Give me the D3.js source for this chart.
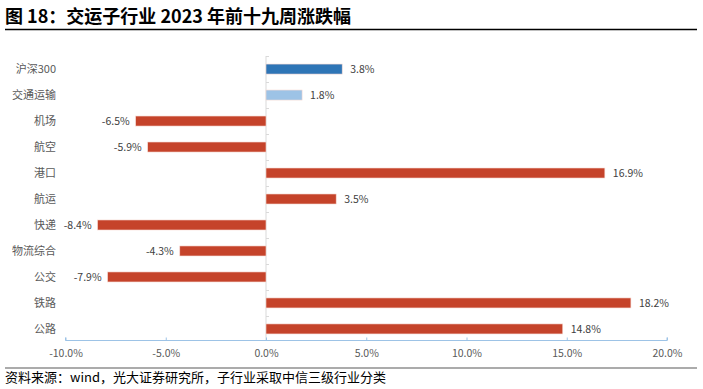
<!DOCTYPE html>
<html><head><meta charset="utf-8">
<script src="https://cdn.jsdelivr.net/npm/d3@7/dist/d3.min.js"></script>
<style>body{margin:0;background:#fff}svg{display:block}</style>
</head><body>
<script>
const categories = ["沪深300","交通运输","机场","航空","港口","航运","快递","物流综合","公交","铁路","公路"];
const values = [3.8, 1.8, -6.5, -5.9, 16.9, 3.5, -8.4, -4.3, -7.9, 18.2, 14.8];
const barColors = ["#2E75B6","#9DC3E6","#C5432A","#C5432A","#C5432A","#C5432A","#C5432A","#C5432A","#C5432A","#C5432A","#C5432A"];
const xTicks = [-10, -5, 0, 5, 10, 15, 20];
const titleText = "图 18：交运子行业 2023 年前十九周涨跌幅";
const sourceText = "资料来源：wind，光大证券研究所，子行业采取中信三级行业分类";

const W = 703, H = 389;
const font = "'Noto Sans CJK SC','Noto Sans',sans-serif";
const svg = d3.select("body").append("svg").attr("width", W).attr("height", H);

svg.append("text").attr("x", 5).attr("y", 23).attr("font-family", font)
  .attr("font-size", 18).attr("font-weight", "bold").attr("fill", "#000").text(titleText);
svg.append("line").attr("x1", 5).attr("x2", 697).attr("y1", 29.5).attr("y2", 29.5)
  .attr("stroke", "#000").attr("stroke-width", 1.5);

const x = d3.scaleLinear().domain([-10, 20]).range([65.5, 667]);
const y = d3.scaleBand().domain(categories).range([56, 342]).paddingInner(0.615).paddingOuter(0.31);

const x0 = x(0);
svg.append("line").attr("x1", x0).attr("x2", x0).attr("y1", 56).attr("y2", 341)
  .attr("stroke", "#d9d9d9").attr("stroke-width", 1);
for (let i = 0; i <= categories.length; i++) {
  const yy = 56 + i * 26;
  if (yy > 340) break;
  svg.append("line").attr("x1", x0).attr("x2", x0 + 3).attr("y1", yy + 0.5).attr("y2", yy + 0.5)
    .attr("stroke", "#d9d9d9");
}

svg.selectAll("rect.bar").data(categories).enter().append("rect")
  .attr("x", (d, i) => Math.min(x(0), x(values[i])))
  .attr("y", d => y(d))
  .attr("width", (d, i) => Math.abs(x(values[i]) - x(0)))
  .attr("height", y.bandwidth())
  .attr("fill", (d, i) => barColors[i])
  .attr("stroke", "#f6d9d2").attr("stroke-width", 0.6);

svg.selectAll("text.val").data(categories).enter().append("text")
  .attr("x", (d, i) => values[i] >= 0 ? x(values[i]) + 8 : x(values[i]) - 6)
  .attr("y", d => y(d) + y.bandwidth() / 2 + 4)
  .attr("text-anchor", (d, i) => values[i] >= 0 ? "start" : "end")
  .attr("font-family", font).attr("font-size", 10.5).attr("fill", "#404040")
  .text((d, i) => values[i].toFixed(1) + "%");

svg.selectAll("text.cat").data(categories).enter().append("text")
  .attr("x", 56).attr("y", d => y(d) + y.bandwidth() / 2 + 4)
  .attr("text-anchor", "end").attr("font-family", font).attr("font-size", 11)
  .attr("fill", "#595959").text(d => d);

const xAxis = d3.axisBottom(x).tickValues(xTicks).tickSize(-3).tickPadding(9)
  .tickFormat(d => d.toFixed(1) + "%");
const gx = svg.append("g").attr("transform", "translate(0,340.5)").call(xAxis);
gx.select(".domain").attr("stroke", "#9DC3E6").attr("d", `M${x(-10)},-3V0H${x(20)}V-3`);
gx.selectAll(".tick line").attr("stroke", "#9DC3E6");
gx.selectAll(".tick text").attr("font-family", font).attr("font-size", 10.5).attr("fill", "#595959");

svg.append("line").attr("x1", 5).attr("x2", 697).attr("y1", 368).attr("y2", 368)
  .attr("stroke", "#595959").attr("stroke-width", 1.2);
svg.append("text").attr("x", 5).attr("y", 382).attr("font-family", font)
  .attr("font-size", 13).attr("fill", "#000").text(sourceText);
</script>
</body></html>
